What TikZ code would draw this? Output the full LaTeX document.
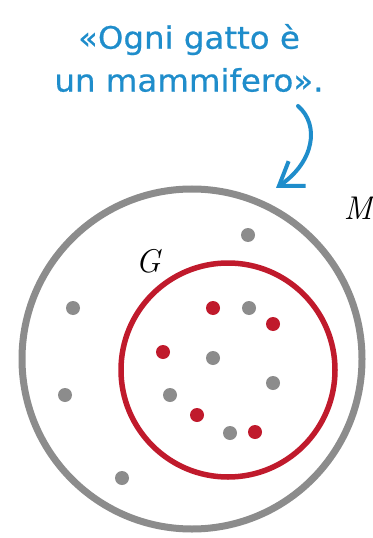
\documentclass[tikz,border=0pt]{standalone}
\usepackage{fontspec}
\newfontfamily\handfont[FakeStretch=1.05,FakeBold=0.6]{DejaVu Sans}
\usetikzlibrary{arrows.meta}
\definecolor{setgray}{HTML}{8C8C8C}
\definecolor{catred}{HTML}{C01A2C}
\definecolor{noteblue}{HTML}{1F8DCB}
\tikzset{
  graydot/.style={circle, fill=setgray, inner sep=0pt, minimum size=14bp},
  reddot/.style={circle, fill=catred, inner sep=0pt, minimum size=14bp},
  setlabel/.style={font=\fontsize{33}{33}\selectfont\itshape}
}
\begin{document}
\begin{tikzpicture}[x=1bp,y=-1bp]
  \useasboundingbox (0,0) rectangle (372,538);
  % the sentence and its arrow
  \node[text=noteblue, font=\handfont\fontsize{31}{43}\selectfont, align=center] (note) at (189,58) {«Ogni gatto è\\un mammifero».};
  \coordinate (tail) at (298,106);
  \coordinate (tip) at (276,188);
  \draw[noteblue, line width=4bp, line cap=round, -{Straight Barb[length=22bp,width=30bp,line width=4bp]}]
    (tail) .. controls (320,125) and (314,162) .. (tip);
  % M: mammals, G: cats
  \draw[setgray, line width=7bp] (192,359) circle (170);
  \draw[catred, line width=5.5bp] (228,370) circle (107);
  \node[setlabel] (mlabel) at (358,208) {M};
  \node[setlabel] (glabel) at (148,261) {G};
  % elements
  \foreach \x/\y [count=\i] in {248/235, 73/308, 249/308, 213/358, 273/383,
      65/395, 170/395, 230/433, 122/478}
    \node[graydot] (g\i) at (\x,\y) {};
  \foreach \x/\y [count=\i] in {213/308, 273/324, 163/352, 197/415, 255/432}
    \node[reddot] (r\i) at (\x,\y) {};
\end{tikzpicture}
\end{document}
